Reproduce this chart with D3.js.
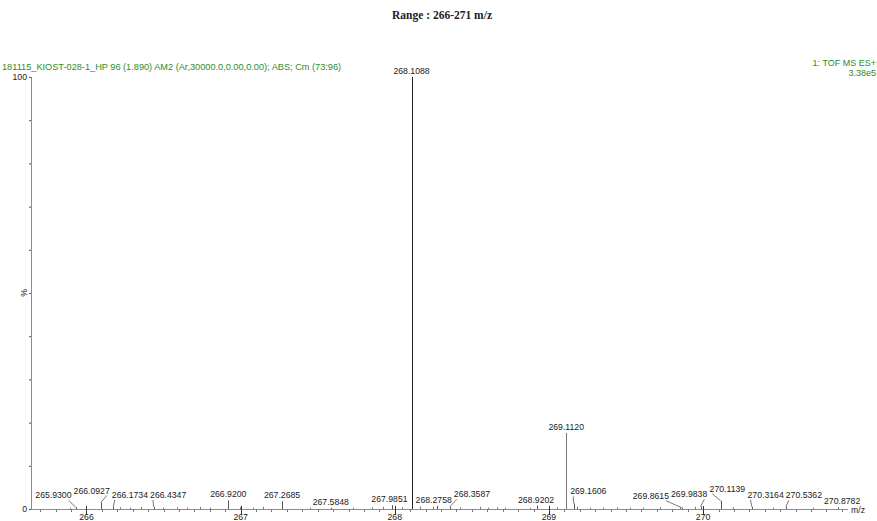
<!DOCTYPE html>
<html><head><meta charset="utf-8">
<script src="https://cdn.jsdelivr.net/npm/d3@7"></script>
<style>
body{margin:0;background:#fff;}
svg{display:block;}
text{font-family:Arial,"Liberation Sans",sans-serif;}
</style></head>
<body>
<svg id="c" width="877" height="521"></svg>
<script>
// ---- data ----
const chartTitle = "Range : 266-271 m/z";
const headerLeft = "181115_KIOST-028-1_HP 96 (1.890) AM2 (Ar,30000.0,0.00,0.00); ABS; Cm (73:96)";
const headerRight = ["1: TOF MS ES+", "3.38e5"];
const xTickValues = [266, 267, 268, 269, 270];
const yTickLabels = [0, 100];
const yAxisLabel = "%";
const xAxisLabel = "m/z";
// labelled peaks (m/z, relative intensity %)
const peakMz  = [265.9300, 266.0927, 266.1734, 266.4347, 266.9200, 267.2685, 267.5848, 267.9851, 268.1088, 268.2758,
                 268.3587, 268.9202, 269.1120, 269.1606, 269.8615, 269.9838, 270.1139, 270.3164, 270.5362, 270.8782];
const peakInt = [0.4, 1.5, 0.5, 0.5, 2.0, 1.8, 0.3, 0.9, 100, 0.7,
                 0.6, 0.8, 17.6, 1.3, 0.3, 0.6, 1.9, 0.5, 0.4, 0.4];
// unlabelled baseline noise peaks
const noiseMz  = [265.896, 266.220, 266.285, 266.356, 266.499, 266.590, 266.655, 266.739, 266.804, 266.998,
                  267.082, 267.147, 267.452, 267.730, 267.854, 267.925, 268.048, 268.165, 268.249, 268.424,
                  268.553, 268.605, 268.664, 268.716, 268.877, 269.052, 269.182, 269.266, 269.351, 269.441,
                  269.526, 269.610, 269.720, 269.850, 269.947, 270.193, 270.452, 270.712];
const noiseInt = [0.3, 0.4, 0.3, 0.5, 0.3, 0.4, 0.3, 0.5, 0.3, 0.4,
                  0.3, 0.5, 0.3, 0.3, 0.4, 0.5, 0.4, 0.6, 0.5, 0.4,
                  0.5, 0.3, 0.4, 0.3, 0.3, 0.4, 0.5, 0.3, 0.3, 0.4,
                  0.3, 0.3, 0.4, 0.3, 0.5, 0.4, 0.3, 0.3];

// ---- drawing ----
const svg = d3.select("#c");
const axisCol = "#8c8c8c";
const x = d3.scaleLinear().domain([265.64, 270.94]).range([31, 848]);
const y = d3.scaleLinear().domain([0, 100]).range([509, 77]);
const fs = "8.7px";

svg.append("text").attr("x", 442).attr("y", 19).attr("text-anchor", "middle")
  .style("font-family", "'Liberation Serif','Times New Roman',serif").style("font-weight", "bold")
  .style("font-size", "11.5px").attr("fill", "#222").text(chartTitle);

svg.append("text").attr("x", 2).attr("y", 70).style("font-size", "9.2px").attr("fill", "#2e8b2e").text(headerLeft);
svg.append("text").attr("x", 876).attr("y", 66).attr("text-anchor", "end").style("font-size", "9px").attr("fill", "#2e8b2e").text(headerRight[0]);
svg.append("text").attr("x", 876).attr("y", 76).attr("text-anchor", "end").style("font-size", "9px").attr("fill", "#2e8b2e").text(headerRight[1]);

// y axis
svg.append("line").attr("x1", x.range()[0] + 0.5).attr("x2", x.range()[0] + 0.5).attr("y1", y(100)).attr("y2", y(0))
  .attr("stroke", axisCol);
svg.append("g").selectAll("line").data(d3.range(0, 101, 10)).join("line")
  .attr("x1", x.range()[0] - 2).attr("x2", x.range()[0]).attr("y1", d => y(d) + 0.5).attr("y2", d => y(d) + 0.5)
  .attr("stroke", "#555");
svg.append("g").selectAll("text").data(yTickLabels).join("text")
  .attr("x", 27).attr("y", d => y(d) + 3).attr("text-anchor", "end").style("font-size", fs).attr("fill", "#222")
  .text(d => d);
svg.append("text").attr("transform", `translate(27,${y(50)}) rotate(-90)`).attr("text-anchor", "middle")
  .style("font-size", fs).attr("fill", "#222").text(yAxisLabel);

// x axis
svg.append("line").attr("x1", x.range()[0]).attr("x2", x.range()[1]).attr("y1", y(0) + 0.5).attr("y2", y(0) + 0.5)
  .attr("stroke", axisCol);
const minor = d3.range(265.7, 270.95, 0.1).filter(v => v <= x.domain()[1]);
svg.append("g").selectAll("line").data(minor).join("line")
  .attr("x1", d => Math.round(x(d)) + 0.5).attr("x2", d => Math.round(x(d)) + 0.5)
  .attr("y1", y(0)).attr("y2", y(0) + 3).attr("stroke", "#777");
svg.append("g").selectAll("line").data(xTickValues).join("line")
  .attr("x1", d => Math.round(x(d)) + 0.5).attr("x2", d => Math.round(x(d)) + 0.5)
  .attr("y1", y(0) - 3).attr("y2", y(0) + 6).attr("stroke", "#333");
svg.append("g").selectAll("text").data(xTickValues).join("text")
  .attr("x", d => x(d)).attr("y", 520).attr("text-anchor", "middle").style("font-size", fs).attr("fill", "#222")
  .text(d => d);
svg.append("text").attr("x", 851).attr("y", y(0) + 4).style("font-size", fs).attr("fill", "#222").text(xAxisLabel);

// noise peaks
svg.append("g").selectAll("line").data(noiseMz.map((m, i) => ({m, v: noiseInt[i]}))).join("line")
  .attr("x1", d => Math.round(x(d.m)) + 0.5).attr("x2", d => Math.round(x(d.m)) + 0.5)
  .attr("y1", d => y(d.v)).attr("y2", y(0)).attr("stroke", "#777");

// labelled peaks
const peaks = peakMz.map((m, i) => ({m, v: peakInt[i]}));
svg.append("g").selectAll("line").data(peaks).join("line")
  .attr("x1", d => Math.round(x(d.m)) + 0.5).attr("x2", d => Math.round(x(d.m)) + 0.5)
  .attr("y1", d => y(d.v)).attr("y2", y(0)).attr("stroke", d => d.v > 50 ? "#222" : (d.v > 5 ? "#777" : "#555"));

// labels: tall peaks get label on top, small peaks get laid out along the baseline
const tall = peaks.filter(d => d.v > 5);
svg.append("g").selectAll("text").data(tall).join("text")
  .attr("x", d => x(d.m)).attr("y", d => y(d.v) - 3).attr("text-anchor", "middle")
  .style("font-size", fs).attr("fill", "#222").text(d => d.m.toFixed(4));

const small = peaks.filter(d => d.v <= 5).map(d => ({...d, px: x(d.m)}));
const meas = svg.append("text").style("font-size", fs).text("000.0000");
const w = meas.node().getComputedTextLength(); meas.remove();
small.forEach(d => { d.w = w; d.left = d.px - w / 2; });
const gap = 2;
const obstacles = tall.map(d => x(d.m));
for (let it = 0; it < 300; it++) {
  for (let i = 0; i < small.length - 1; i++) {
    const a = small[i], b = small[i + 1];
    const o = a.left + a.w + gap - b.left;
    if (o > 0) { a.left -= o / 2; b.left += o / 2; }
  }
  small.forEach(d => {
    obstacles.forEach(ox => {
      if (d.left < ox + 4 && d.left + d.w > ox - 4) {
        const toRight = ox + 4 - d.left, toLeft = d.left + d.w - (ox - 4);
        if (toRight < toLeft) d.left += toRight; else d.left -= toLeft;
      }
    });
    d.left = Math.min(d.left, 868 - d.w);
  });
}
small.forEach(d => {
  d.cx = d.left + d.w / 2;
  d.shift = Math.abs(d.cx - d.px) > 4;
  d.base = d.shift ? y(d.v) - 9 : y(d.v) - 3;
});
svg.append("g").selectAll("text").data(small).join("text")
  .attr("x", d => d.cx).attr("y", d => d.base).attr("text-anchor", "middle")
  .style("font-size", fs).attr("fill", "#222").text(d => d.m.toFixed(4));
svg.append("g").selectAll("line").data(small.filter(d => d.shift)).join("line")
  .attr("x1", d => x(d.m)).attr("y1", d => y(d.v))
  .attr("x2", d => d.px < d.cx ? d.left + 3 : d.left + d.w - 3).attr("y2", d => d.base + 2)
  .attr("stroke", "#777");
</script>
</body></html>
